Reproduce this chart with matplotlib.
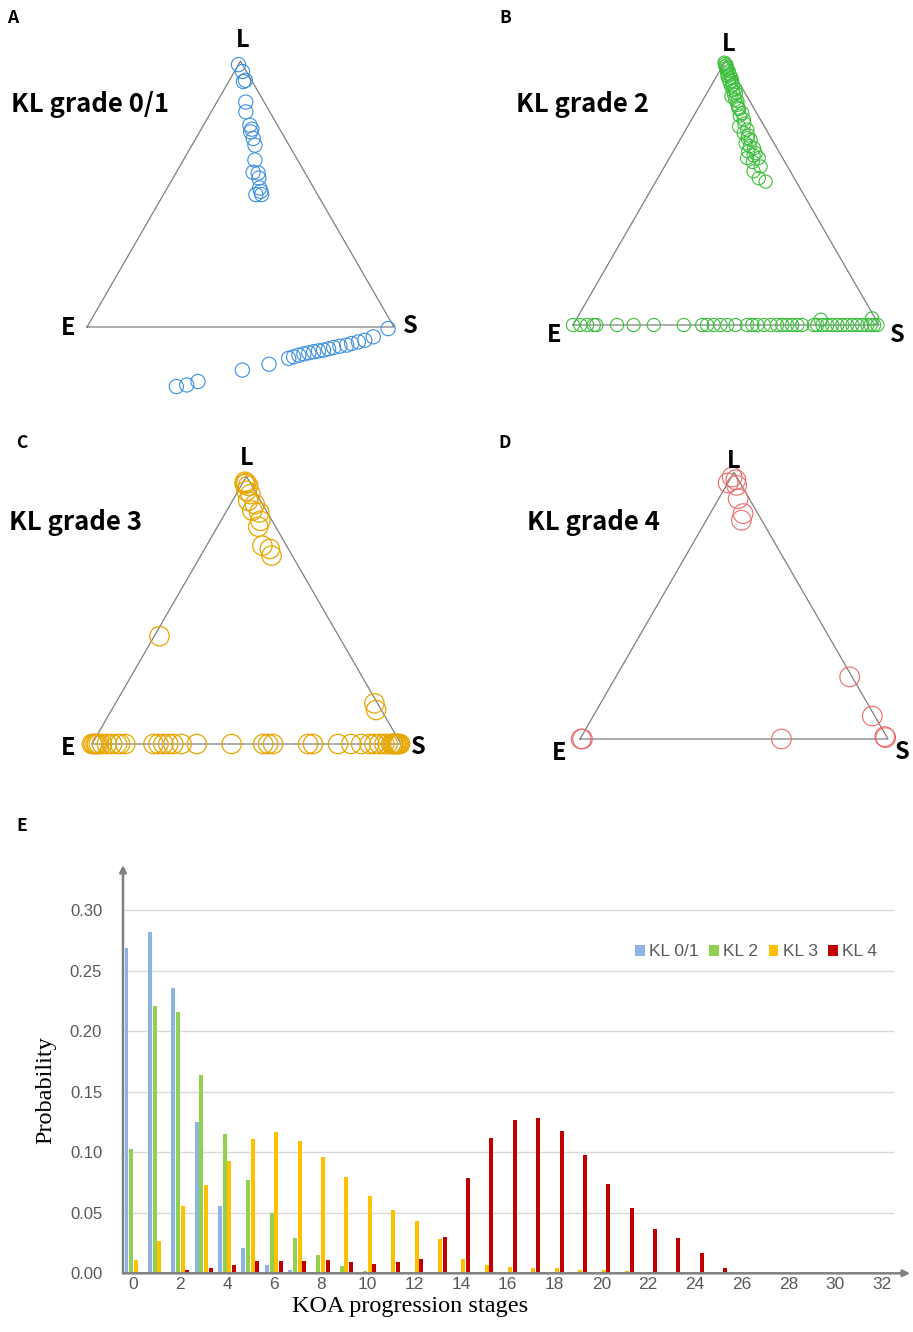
import numpy as np
import matplotlib
matplotlib.use("Agg")
import matplotlib.pyplot as plt

# ---------------- data ----------------
# Ternary compositions (L fraction, S fraction; E = 1 - L - S)
a_L = [0.987, 0.961, 0.923, 0.928, 0.846, 0.809, 0.759, 0.744, 0.734, 0.709, 0.684, 0.628, 0.582,
       0.579, 0.560, 0.523, 0.510, 0.498, 0.498,
       -0.006, -0.037, -0.050, -0.056, -0.062, -0.068, -0.072, -0.077, -0.082, -0.087, -0.090,
       -0.093, -0.097, -0.101, -0.106, -0.112, -0.118, -0.140, -0.162, -0.205, -0.218, -0.224]
a_S = [0.000, 0.026, 0.048, 0.052, 0.094, 0.113, 0.151, 0.165, 0.166, 0.187, 0.205, 0.233, 0.250,
       0.268, 0.280, 0.301, 0.311, 0.301, 0.320,
       0.984, 0.951, 0.930, 0.912, 0.893, 0.880, 0.860, 0.842, 0.828, 0.814, 0.799,
       0.785, 0.771, 0.757, 0.743, 0.729, 0.716, 0.663, 0.587, 0.464, 0.434, 0.403]

b_L = [0.99, 0.985, 0.976, 0.965, 0.950, 0.940, 0.926, 0.915, 0.900, 0.885, 0.869, 0.863, 0.850,
       0.831, 0.815, 0.800, 0.775, 0.749, 0.737, 0.715, 0.699, 0.686, 0.667, 0.648, 0.630, 0.630,
       0.598, 0.554, 0.541,
       0.980, 0.970, 0.958, 0.945, 0.932, 0.920, 0.905, 0.890, 0.875, 0.845, 0.820, 0.790, 0.760,
       0.725, 0.705, 0.675, 0.655, 0.640, 0.615, 0.580] + [0.0] * 41 + [0.02, 0.025]
b_S = [0.000, 0.005, 0.010, 0.020, 0.029, 0.035, 0.046, 0.055, 0.067, 0.080, 0.092, 0.086, 0.105,
       0.122, 0.135, 0.153, 0.171, 0.168, 0.201, 0.215, 0.231, 0.221, 0.258, 0.273, 0.254, 0.292,
       0.314, 0.330, 0.359,
       0.012, 0.018, 0.030, 0.040, 0.052, 0.060, 0.070, 0.085, 0.095, 0.115, 0.130, 0.150, 0.180,
       0.195, 0.218, 0.240, 0.245, 0.270, 0.280, 0.300,
       0.0, 0.024, 0.046, 0.068, 0.076, 0.144, 0.198, 0.264, 0.362, 0.422, 0.438, 0.460, 0.482,
       0.504, 0.531, 0.569, 0.586, 0.602, 0.624, 0.646, 0.667, 0.684, 0.700, 0.716, 0.733, 0.749,
       0.787, 0.798, 0.815, 0.831, 0.847, 0.864, 0.880, 0.896, 0.913, 0.929, 0.945, 0.962,
       0.973, 0.984, 0.995, 0.80, 0.965]

c_L = [0.980, 0.975, 0.971, 0.965, 0.946, 0.934, 0.909, 0.896, 0.872, 0.865, 0.834, 0.812,
       0.741, 0.729, 0.704, 0.403, 0.152, 0.127] + [0.0] * 41
c_S = [0.005, 0.012, 0.009, 0.023, 0.027, 0.046, 0.051, 0.079, 0.083, 0.109, 0.128, 0.132,
       0.181, 0.211, 0.229, 0.017, 0.838, 0.856,
       0.000, 0.005, 0.011, 0.016, 0.022, 0.032, 0.048, 0.065, 0.081, 0.091, 0.108,
       0.199, 0.215, 0.231, 0.247, 0.263, 0.290, 0.339, 0.452, 0.554, 0.570, 0.586, 0.699, 0.715,
       0.796, 0.839, 0.871, 0.898, 0.914, 0.930, 0.946, 0.957, 0.968, 0.973, 0.978, 0.983,
       0.989, 0.993, 0.997, 0.985, 0.975]

d_L = [0.982, 0.960, 0.972, 0.951, 0.901, 0.845, 0.820, 0.233, 0.086, 0.0, 0.0, 0.0, 0.009, 0.005]
d_S = [0.003, 0.001, 0.020, 0.033, 0.063, 0.107, 0.114, 0.759, 0.906, 0.654, 0.008, 0.004, 0.985, 0.990]

# Bar chart data (probability by KOA progression stage)
stages = list(range(33))
kl01 = [0.269, 0.282, 0.236, 0.125, 0.056, 0.021, 0.007, 0.003] + [0.0] * 25
kl2 = [0.103, 0.221, 0.216, 0.164, 0.115, 0.077, 0.050, 0.029, 0.015, 0.006, 0.002] + [0.0] * 22
kl3 = [0.011, 0.027, 0.056, 0.073, 0.093, 0.111, 0.117, 0.109, 0.096, 0.080, 0.064, 0.052,
       0.043, 0.028, 0.012, 0.007, 0.005, 0.004, 0.004, 0.003, 0.003, 0.002, 0.001] + [0.0] * 10
kl4 = [0.0, 0.0, 0.003, 0.004, 0.007, 0.010, 0.010, 0.010, 0.011, 0.009, 0.008, 0.009, 0.012,
       0.030, 0.079, 0.112, 0.127, 0.128, 0.118, 0.098, 0.074, 0.054, 0.037, 0.029, 0.017, 0.004] + [0.0] * 7
series_labels = ["KL 0/1", "KL 2", "KL 3", "KL 4"]
yticks = [0.0, 0.05, 0.10, 0.15, 0.20, 0.25, 0.30]
xticks = list(range(0, 33, 2))

# ---------------- layout ----------------
FW, FH = 913, 1332
fig = plt.figure(figsize=(FW / 100, FH / 100), dpi=100)

def fpos(x, y):
    return x / FW, 1 - y / FH

BOLD = ["Noto Sans CJK SC", "DejaVu Sans"]

def tri_panel(Ex, Ey, W, Ls, Ss, color, msize, lw):
    x0, x1, y0, y1 = -0.35, 1.35, -0.32, 1.0
    left = Ex + x0 * W
    bottom = Ey - y0 * W
    ax = fig.add_axes([left / FW, 1 - bottom / FH, (x1 - x0) * W / FW, (y1 - y0) * W / FH])
    ax.set_xlim(x0, x1)
    ax.set_ylim(y0, y1)
    ax.axis("off")
    h = np.sqrt(3) / 2
    ax.plot([0, 1, 0.5, 0], [0, 0, h, 0], color="#7f7f7f", lw=0.9, zorder=1)
    Ls = np.asarray(Ls)
    Ss = np.asarray(Ss)
    x = Ss + Ls / 2
    y = Ls * h
    ax.scatter(x, y, s=msize, facecolors="none", edgecolors=color, linewidths=lw,
               clip_on=False, zorder=2)
    return ax

tri_panel(87, 327, 307, a_L, a_S, "#3b8fe0", 105, 0.8)
tri_panel(573, 325, 306, b_L, b_S, "#3cbf3c", 90, 0.8)
tri_panel(92, 744, 309, c_L, c_S, "#e8a600", 195, 0.9)
tri_panel(580, 739, 308, d_L, d_S, "#ee6a6a", 200, 0.8)

def ftext(x, y, s, size, **kw):
    fx, fy = fpos(x, y)
    fig.text(fx, fy, s, fontsize=size, ha="center", va="center", **kw)

# vertex labels
for (lx, ly), (ex, ey), (sx, sy) in [((243, 40), (68, 328), (410, 326)),
                                      ((729, 44), (554, 335), (897, 335)),
                                      ((247, 458), (68, 748), (418, 747)),
                                      ((734, 461), (559, 753), (902, 752))]:
    ftext(lx, ly, "L", 17, family=BOLD, fontweight="bold")
    ftext(ex, ey, "E", 17, family=BOLD, fontweight="bold")
    ftext(sx, sy, "S", 17, family=BOLD, fontweight="bold")

# grade titles
for x, y, s in [(11, 105, "KL grade 0/1"), (516, 105, "KL grade 2"),
                (9, 523, "KL grade 3"), (527, 523, "KL grade 4")]:
    fx, fy = fpos(x, y)
    fig.text(fx, fy, s, fontsize=18.5, ha="left", va="center", family=BOLD, fontweight="bold")

# panel letters
for x, y, s in [(13, 18, "A"), (505, 18, "B"), (22, 443, "C"), (505, 443, "D"), (22, 826, "E")]:
    ftext(x, y, s, 12.5, family=BOLD, fontweight="bold")

# ---------------- bar chart ----------------
ax_l, ax_r, ax_b, ax_t = 123, 910, 1273.3, 865
ax = fig.add_axes([ax_l / FW, 1 - ax_b / FH, (ax_r - ax_l) / FW, (ax_b - ax_t) / FH])
ax.set_xlim(-0.45, 33.2)
ax.set_ylim(0, 0.3375)
for s in ax.spines.values():
    s.set_visible(False)

colors = ["#8db3e2", "#92d050", "#ffc000", "#c00000"]
offsets = [-0.3, -0.1, 0.1, 0.3]
x = np.asarray(stages)
for vals, off, col, lab in zip([kl01, kl2, kl3, kl4], offsets, colors, series_labels):
    ax.bar(x + off, vals, width=0.17, color=col, label=lab, zorder=3)

gx = (893 - ax_l) / (ax_r - ax_l)
for yv in yticks[1:]:
    ax.axhline(yv, xmin=0, xmax=gx, color="#d9d9d9", lw=1.0, zorder=1)

ax.annotate("", xy=(0, 1), xytext=(0, 0), xycoords="axes fraction",
            arrowprops=dict(arrowstyle="-|>", color="#808080", lw=1.8, mutation_scale=10,
                            shrinkA=0, shrinkB=0), zorder=5)
ax.annotate("", xy=(1, 0), xytext=(0, 0), xycoords="axes fraction",
            arrowprops=dict(arrowstyle="-|>", color="#808080", lw=1.8, mutation_scale=10,
                            shrinkA=0, shrinkB=0), zorder=5)

ax.set_yticks(yticks)
ax.set_yticklabels([f"{v:.2f}" for v in yticks])
ax.set_xticks(xticks)
ax.set_xticklabels([str(v) for v in xticks])
ax.tick_params(axis="y", length=0, pad=15, labelsize=12, labelcolor="#595959")
ax.tick_params(axis="x", length=0, pad=3, labelsize=12.5, labelcolor="#595959")
for t in ax.get_xticklabels() + ax.get_yticklabels():
    t.set_family("Liberation Sans")

ax.set_ylabel("Probability", family="Liberation Serif", fontsize=17.5)
ax.yaxis.set_label_coords(-0.085, 0.45)
ax.set_xlabel("KOA progression stages", family="Liberation Serif", fontsize=17.5)
ax.xaxis.set_label_coords(0.365, -0.055)

leg = ax.legend(loc="center right", bbox_to_anchor=(0.969, 0.787), ncol=4, frameon=False,
                handlelength=0.55, handleheight=0.55, handletextpad=0.25, columnspacing=0.6,
                borderpad=0, prop={"family": "Liberation Sans", "size": 12.5})
for t in leg.get_texts():
    t.set_color("#595959")

fig.savefig("out.png", dpi=100)
